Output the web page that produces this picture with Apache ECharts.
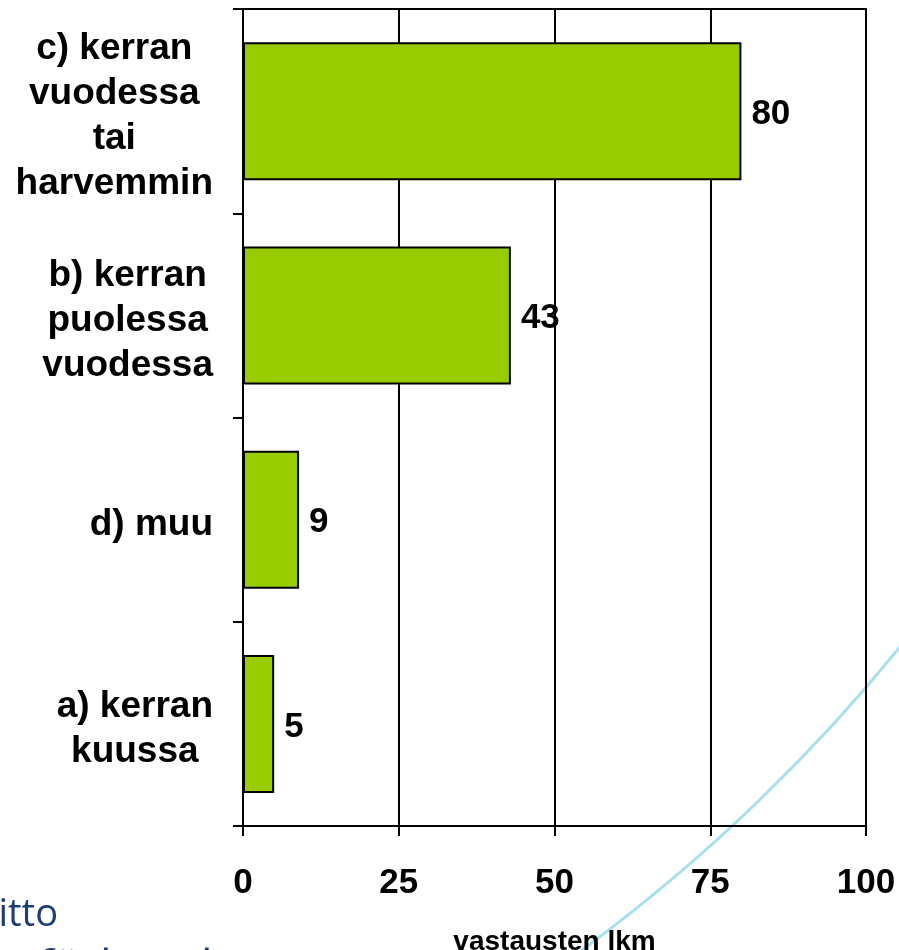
<!DOCTYPE html>
<html>
<head>
<meta charset="utf-8">
<script src="https://cdn.jsdelivr.net/npm/echarts@6/dist/echarts.min.js"></script>
<style>
html,body{margin:0;padding:0;background:#fff;}
#chart{width:899px;height:950px;}
</style>
</head>
<body>
<div id="chart"></div>
<script>
const categories = ['a) kerran\nkuussa', 'd) muu', 'b) kerran\npuolessa\nvuodessa', 'c) kerran\nvuodessa\ntai\nharvemmin'];
const values = [5, 9, 43, 80];
const xTicks = [0, 25, 50, 75, 100];
const axisName = 'vastausten lkm';

const FONT = 'Liberation Sans, Arial, sans-serif';
const chart = echarts.init(document.getElementById('chart'));
chart.setOption({
  animation: false,
  backgroundColor: '#ffffff',
  grid: { left: 243, right: 33, top: 9, bottom: 124, containLabel: false, outerBoundsMode: 'none',
          show: true, borderColor: '#000', borderWidth: 2, backgroundColor: 'transparent' },
  graphic: [
    { type: 'arc', z: -10, silent: true,
      shape: { cx: -447, cy: -447.5, r: 1735.5, startAngle: 0.6, endAngle: 1.0 },
      style: { stroke: '#a8dff0', lineWidth: 3, fill: null } },
    { type: 'text', z: -10, silent: true,
      x: 58, y: 915,
      style: { text: 'Kuntaliitto', align: 'right', verticalAlign: 'middle', font: '38px "Open Sans", sans-serif', fill: '#1f3d73' } },
    { type: 'text', z: -10, silent: true,
      x: 38, y: 970,
      style: { text: 'förbundet', align: 'left', verticalAlign: 'middle', font: '46px "Open Sans", sans-serif', fill: '#1f3d73' } }
  ],
  xAxis: {
    type: 'value', min: xTicks[0], max: xTicks[xTicks.length - 1], interval: 25,
    name: axisName, nameLocation: 'middle', nameGap: 102,
    nameTextStyle: { fontFamily: FONT, fontWeight: 'bold', fontSize: 28, color: '#000' },
    axisLine: { show: true, lineStyle: { color: '#000', width: 2 } },
    axisTick: { show: true, length: 10, lineStyle: { color: '#000', width: 2 } },
    splitLine: { show: true, lineStyle: { color: '#000', width: 2 } },
    axisLabel: { margin: 40, fontFamily: FONT, fontWeight: 'bold', fontSize: 35, color: '#000' }
  },
  yAxis: {
    type: 'category', data: categories,
    axisLine: { show: true, lineStyle: { color: '#000', width: 2 } },
    axisTick: { show: true, length: 10, lineStyle: { color: '#000', width: 2 } },
    axisLabel: {
      margin: 30, align: 'right', color: '#000', padding: [10, 0, 0, 0],
      fontFamily: FONT, fontWeight: 'bold', fontSize: 37, lineHeight: 45,
      formatter: v => v.split('\n').map(l => '{c|' + l + '}').join('\n'),
      rich: { c: { align: 'center', fontFamily: FONT, fontWeight: 'bold', fontSize: 37, lineHeight: 45, color: '#000' } }
    }
  },
  series: [{
    type: 'bar', data: values, barWidth: 138,
    itemStyle: { color: '#99cc00', borderColor: '#000', borderWidth: 2 },
    label: { show: true, position: 'right', distance: 10, offset: [0, 3], fontFamily: FONT, fontWeight: 'bold', fontSize: 35, color: '#000' }
  }]
});
</script>
</body>
</html>
